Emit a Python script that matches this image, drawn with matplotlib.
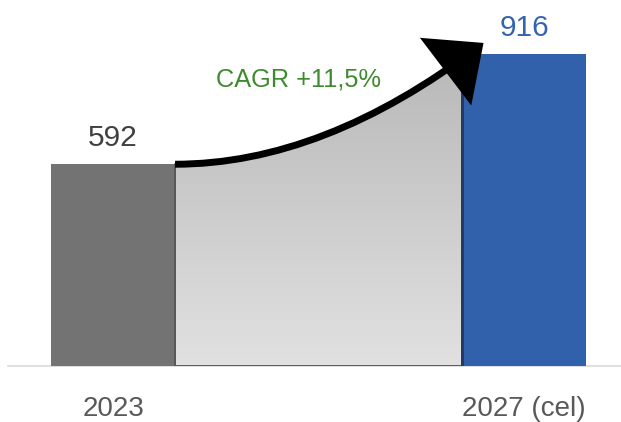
import matplotlib
matplotlib.use('Agg')
import matplotlib.pyplot as plt
import numpy as np
from matplotlib.patches import FancyArrowPatch, Polygon
from matplotlib.path import Path

years = ["2023", "2027 (cel)"]
values = [592, 916]
bar_colors = ["#737373", "#3261ab"]
label_colors = ["#404040", "#3464b0"]
cagr_text = "CAGR +11,5%"

plt.rcParams['font.family'] = ['Liberation Sans', 'DejaVu Sans']

fig = plt.figure(figsize=(6.21, 4.22), dpi=100)
ax = fig.add_axes([8 / 621, 56 / 422, 613 / 621, 366 / 422])

x = np.arange(len(values))
w = 0.302
bars = ax.bar(x, values, width=w, color=bar_colors, zorder=3)
bars[1].set_zorder(5)

ax.set_xlim(-0.2555, 1.236)
ax.set_ylim(0, 1074)

# curved growth arrow between the bars (quadratic bezier)
p0 = np.array([x[0] + w / 2, values[0]])
p1 = np.array([0.512, values[0]])
p2 = np.array([x[1] - 0.0985, values[1] + 32])
t = np.linspace(0, 1, 300)[:, None]
curve = (1 - t) ** 2 * p0 + 2 * (1 - t) * t * p1 + t ** 2 * p2

# gradient fill under the curve up to the 2027 bar
right = x[1] - w / 2
top = curve[curve[:, 0] <= right]
y_right = np.interp(right, curve[:, 0], curve[:, 1])
poly_pts = np.vstack([[p0[0], 0], top, [right, y_right], [right, 0]])
poly = Polygon(poly_pts, closed=True, facecolor='none', edgecolor='#555555', lw=1.3, zorder=4)
ax.add_patch(poly)
grad = np.linspace(0, 1, 256)[:, None]
cmap = matplotlib.colors.LinearSegmentedColormap.from_list('g', ['#e1e1e1', '#b6b6b6'])
im = ax.imshow(grad, extent=[p0[0], right, 0, 960], origin='lower', aspect='auto',
               cmap=cmap, zorder=2)
im.set_clip_path(poly)
ax.vlines(right, 0, y_right, color='#1f3864', lw=2, zorder=5)

path = Path([tuple(p0), tuple(p1), tuple(p2)], [Path.MOVETO, Path.CURVE3, Path.CURVE3])
arrow = FancyArrowPatch(path=path, arrowstyle='-|>,head_length=28,head_width=25',
                        mutation_scale=1, color='black', lw=5, shrinkA=0, shrinkB=0,
                        joinstyle='miter', capstyle='butt', zorder=6)
ax.add_patch(arrow)

for xi, v, c in zip(x, values, label_colors):
    ax.annotate(str(v), (xi, v), xytext=(0, 13), textcoords='offset points',
                ha='center', va='baseline', fontsize=21.5, color=c)

ax.text(0.451, 819, cagr_text, ha='center', va='baseline', fontsize=18.3, color='#3e8a2e')

ax.set_xticks(x)
ax.set_xticklabels(years, fontsize=20, color='#595959')
ax.tick_params(axis='x', length=0, pad=21.5)
ax.set_yticks([])
for s in ['top', 'right', 'left']:
    ax.spines[s].set_visible(False)
ax.spines['bottom'].set_color('#d9d9d9')
ax.spines['bottom'].set_linewidth(1.2)

fig.savefig('out.png', dpi=100)
